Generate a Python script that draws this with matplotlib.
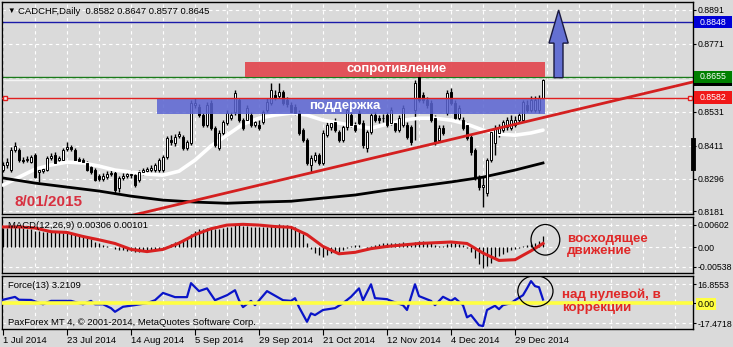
import matplotlib.pyplot as plt
import matplotlib.transforms as mtransforms
from matplotlib.patches import Rectangle, Ellipse, Polygon

plt.rcParams['font.family'] = ['Liberation Sans', 'DejaVu Sans']

W, H = 733, 347
BG = '#dadada'

# daily bars, index 0 = 1 Jul 2014 ... 135 = 8 Jan 2015
opens = [
    .8326, .8344, .8326, .8397, .8397, .8361, .8361, .8354, .8379, .8319,
    .8322, .8326, .8368, .8379, .8361, .8361, .8400, .8407, .8397, .8365,
    .8361, .8351, .8337, .8326, .8305, .8294, .8301, .8312, .8315, .8262,
    .8298, .8305, .8308, .8308, .8291, .8319, .8322, .8326, .8326, .8326,
    .8326, .8372, .8432, .8421, .8446, .8442, .8404, .8421, .8555, .8548,
    .8520, .8485, .8562, .8474, .8404, .8457, .8492, .8509, .8531, .8573,
    .8502, .8502, .8520, .8485, .8485, .8495, .8538, .8562, .8591, .8587,
    .8601, .8573, .8555, .8548, .8527, .8467, .8432, .8344, .8361, .8379,
    .8351, .8449, .8478, .8495, .8460, .8432, .8478, .8520, .8485, .8527,
    .8492, .8404, .8460, .8520, .8509, .8509, .8520, .8492, .8492, .8467,
    .8485, .8485, .8478, .8538, .8654, .8591, .8573, .8562, .8509, .8432,
    .8474, .8527, .8601, .8562, .8509, .8502, .8485, .8442, .8397, .8301,
    .8266, .8245, .8361, .8421, .8457, .8467, .8478, .8474, .8485, .8502,
    .8502, .8555, .8538, .8538, .8538, .8582]
highs = [
    .8354, .8368, .8407, .8425, .8404, .8372, .8375, .8379, .8386, .8333,
    .8340, .8375, .8386, .8390, .8375, .8404, .8425, .8414, .8404, .8372,
    .8368, .8358, .8344, .8333, .8312, .8315, .8322, .8326, .8322, .8305,
    .8315, .8322, .8326, .8315, .8326, .8333, .8337, .8344, .8351, .8368,
    .8379, .8446, .8449, .8453, .8464, .8449, .8432, .8573, .8580, .8559,
    .8527, .8566, .8573, .8481, .8467, .8502, .8538, .8531, .8608, .8580,
    .8509, .8555, .8531, .8509, .8502, .8538, .8580, .8633, .8608, .8633,
    .8608, .8584, .8566, .8559, .8538, .8474, .8439, .8379, .8390, .8386,
    .8467, .8495, .8502, .8509, .8467, .8485, .8555, .8531, .8495, .8538,
    .8502, .8467, .8527, .8531, .8520, .8524, .8531, .8548, .8502, .8520,
    .8555, .8495, .8485, .8644, .8672, .8601, .8584, .8573, .8520, .8485,
    .8485, .8608, .8615, .8573, .8555, .8513, .8495, .8449, .8404, .8308,
    .8305, .8368, .8467, .8485, .8488, .8502, .8513, .8520, .8517, .8531,
    .8573, .8573, .8587, .8587, .8591, .8647]
lows = [
    .8319, .8333, .8319, .8390, .8354, .8351, .8354, .8351, .8298, .8284,
    .8315, .8322, .8361, .8344, .8354, .8358, .8393, .8393, .8354, .8351,
    .8347, .8322, .8312, .8287, .8287, .8287, .8294, .8305, .8241, .8248,
    .8291, .8298, .8298, .8266, .8284, .8308, .8315, .8319, .8319, .8319,
    .8319, .8365, .8414, .8411, .8439, .8397, .8397, .8414, .8545, .8513,
    .8478, .8478, .8467, .8407, .8397, .8449, .8485, .8502, .8520, .8495,
    .8467, .8492, .8478, .8478, .8467, .8488, .8531, .8555, .8573, .8580,
    .8555, .8548, .8524, .8520, .8449, .8425, .8344, .8319, .8354, .8344,
    .8344, .8442, .8467, .8460, .8425, .8425, .8467, .8478, .8460, .8485,
    .8404, .8390, .8453, .8495, .8492, .8495, .8478, .8485, .8460, .8460,
    .8478, .8435, .8414, .8432, .8566, .8562, .8545, .8495, .8414, .8425,
    .8449, .8520, .8555, .8502, .8502, .8467, .8432, .8379, .8291, .8256,
    .8195, .8234, .8354, .8379, .8442, .8457, .8467, .8467, .8478, .8495,
    .8495, .8531, .8531, .8531, .8527, .8577]
closes = [
    .8344, .8354, .8397, .8411, .8361, .8358, .8365, .8372, .8301, .8326,
    .8329, .8368, .8375, .8351, .8368, .8397, .8407, .8400, .8361, .8358,
    .8354, .8326, .8319, .8291, .8294, .8305, .8312, .8315, .8256, .8298,
    .8305, .8312, .8312, .8273, .8319, .8326, .8329, .8333, .8344, .8361,
    .8372, .8439, .8425, .8442, .8453, .8404, .8425, .8562, .8562, .8520,
    .8485, .8555, .8474, .8414, .8457, .8495, .8527, .8520, .8598, .8502,
    .8474, .8545, .8485, .8495, .8474, .8531, .8566, .8608, .8580, .8601,
    .8562, .8559, .8531, .8527, .8457, .8432, .8351, .8368, .8379, .8351,
    .8457, .8485, .8492, .8467, .8432, .8478, .8538, .8485, .8467, .8492,
    .8414, .8460, .8520, .8502, .8502, .8509, .8485, .8538, .8467, .8509,
    .8545, .8442, .8425, .8633, .8573, .8573, .8555, .8502, .8425, .8474,
    .8457, .8598, .8562, .8509, .8545, .8474, .8439, .8390, .8301, .8266,
    .8273, .8361, .8460, .8474, .8478, .8495, .8502, .8502, .8502, .8520,
    .8566, .8538, .8573, .8573, .8580, .8645]

# white moving average (vertices)
ma_fast_idx = [0, 4, 8, 12, 16, 20, 24, 28, 32, 36, 40, 44, 48, 52, 56, 60, 64, 68,
               72, 76, 80, 84, 88, 92, 96, 100, 104, 108, 112, 116, 120, 124, 128, 132, 135]
ma_fast = [.8273, .8301, .8329, .8344, .8354, .8351, .8340, .8326, .8319, .8312,
           .8308, .8322, .8361, .8411, .8449, .8488, .8509, .8520, .8527, .8520,
           .8502, .8492, .8481, .8474, .8488, .8502, .8509, .8509, .8502, .8488,
           .8467, .8453, .8449, .8457, .8467]
# black moving average (vertices)
ma_slow_idx = [0, 8, 16, 24, 32, 40, 48, 56, 64, 72, 80, 88, 96, 104, 112, 120, 128, 135]
ma_slow = [.8298, .8280, .8266, .8252, .8234, .8220, .8213, .8209, .8213, .8216,
           .8227, .8238, .8255, .8269, .8284, .8301, .8326, .8351]

# drawn levels
trend_idx = [32.5, 172.5]
trend_px = [0.8167, 0.8637]
level_blue = 0.8848
level_green = 0.8655
level_red = 0.8582
bid = 0.8645
resist_box = (60.5, 135.5, 0.8655, 0.8708)
support_box = (38.5, 135.5, 0.8523, 0.8580)
arrow_idx = [137.75, 140.0, 140.0, 141.3, 138.9, 136.5, 137.75]
arrow_px = [0.8652, 0.8652, 0.8774, 0.8774, 0.8891, 0.8774, 0.8774]

# MACD(12,26,9)
macd_hist = [
    0.0052, 0.0053, 0.0054, 0.0055, 0.0054, 0.0052, 0.0050, 0.0049,
    0.0045, 0.0043, 0.0042, 0.0042, 0.0041, 0.0040, 0.0040, 0.0039,
    0.0038, 0.0038, 0.0036, 0.0034, 0.0032, 0.0028, 0.0022, 0.0015,
    0.0010, 0.0006, 0.0003, 0.0001, -0.0006, -0.0008, -0.0009, -0.0010,
    -0.0011, -0.0012, -0.0012, -0.0011, -0.0010, -0.0009, -0.0007, -0.0004,
    -0.0001, 0.0004, 0.0009, 0.0014, 0.0018, 0.0020, 0.0024, 0.0036,
    0.0045, 0.0048, 0.0050, 0.0053, 0.0052, 0.0048, 0.0050, 0.0053,
    0.0055, 0.0056, 0.0062, 0.0060, 0.0057, 0.0057, 0.0056, 0.0055,
    0.0054, 0.0055, 0.0056, 0.0060, 0.0061, 0.0062, 0.0061, 0.0060,
    0.0057, 0.0055, 0.0046, 0.0035, 0.0012, -0.0005, -0.0015, -0.0022,
    -0.0026, -0.0020, -0.0016, -0.0014, -0.0012, -0.0008, -0.0002, 0.0003,
    0.0005, 0.0006, 0.0000, -0.0003, 0.0002, 0.0005, 0.0008, 0.0010,
    0.0011, 0.0012, 0.0010, 0.0011, 0.0013, 0.0010, 0.0007, 0.0014,
    0.0017, 0.0016, 0.0015, 0.0012, 0.0006, 0.0004, 0.0003, 0.0009,
    0.0011, 0.0010, 0.0009, 0.0005, -0.0002, -0.0012, -0.0030, -0.0046,
    -0.0056, -0.0052, -0.0042, -0.0032, -0.0025, -0.0018, -0.0013, -0.0009,
    -0.0006, -0.0003, 0.0003, 0.0005, 0.0008, 0.0012, 0.0018, 0.00306]
sig_idx = [0, 4, 8, 12, 16, 20, 24, 28, 32, 36, 40, 44, 48, 52, 56, 60, 64, 68,
           72, 76, 80, 84, 88, 92, 96, 100, 104, 108, 112, 116, 120, 124, 128, 132, 135]
sig_val = [0.0055, 0.0055, 0.0052, 0.0042, 0.0040, 0.0029, 0.0020, 0.0010, -0.0006, -0.0012,
           -0.0006, 0.0011, 0.0034, 0.0050, 0.0060, 0.0062, 0.0060, 0.0056, 0.0054, 0.0034,
           0.0002, -0.0018, -0.0014, -0.0004, 0.0002, 0.0006, 0.0010, 0.0012, 0.0014, 0.0010,
           -0.0016, -0.0036, -0.0034, -0.0010, 0.00101]

# Force(13)
force_idx = [0, 3, 4, 7, 10, 12, 17, 20, 22, 23, 25, 27, 28, 30, 33, 36, 38, 40, 43, 46,
             47, 49, 51, 53, 56, 58, 59, 60, 62, 63, 66, 70, 72, 73, 74, 76, 77, 78, 80, 83,
             85, 87, 89, 90, 92, 93, 96, 97, 100, 101, 103, 104, 107, 108, 110, 112, 113, 115, 116, 117,
             119, 120, 121, 123, 124, 125, 127, 128, 130, 131, 132, 133, 134, 135]
force_val = [3.0, 5.5, 3.0, 2.8, -1.0, 2.0, 2.0, -1.0, 2.0, -1.0,
             -1.0, -4.4, -7.6, -3.2, -1.7, 0.0, 2.6, 9.0, 5.3, 5.3,
             17.6, 10.6, 13.0, 2.6, 7.0, 11.4, 2.6, -3.5, 2.0, -1.8,
             10.6, 2.6, 2.0, 4.4, -3.5, -16.4, -9.0, -10.5, -6.0, -4.4,
             0.0, 5.6, 13.0, 2.6, 16.6, 4.4, 3.5, 2.0, -1.8, -6.0,
             16.6, 6.2, 2.0, -1.8, 5.6, 2.0, 4.4, -1.8, -12.5, -10.5,
             -19.4, -20.2, -6.0, -2.3, -5.3, -1.8, 0.0, 2.6, 7.0, 13.0,
             19.4, 15.0, 14.0, 3.21]

date_pos = [0, 16, 32, 48, 64, 80, 96, 112, 128]
date_labels = ['1 Jul 2014', '23 Jul 2014', '14 Aug 2014', '5 Sep 2014', '29 Sep 2014',
               '21 Oct 2014', '12 Nov 2014', '4 Dec 2014', '29 Dec 2014']
price_ticks = [0.8891, 0.8771, 0.8651, 0.8531, 0.8411, 0.8296, 0.8181]
price_labels = ['0.8891', '0.8771', '', '0.8531', '0.8411', '0.8296', '0.8181']

fig = plt.figure(figsize=(W / 100, H / 100), dpi=100, facecolor=BG)


def panel(top, bottom):
    a = fig.add_axes([2 / W, 1 - bottom / H, 691 / W, (bottom - top) / H])
    a.set_facecolor(BG)
    for s in a.spines.values():
        s.set_color('black')
        s.set_linewidth(1)
    a.set_xlim(-0.25, 172.5)
    a.yaxis.tick_right()
    a.tick_params(axis='y', length=2, width=0.8, labelsize=6.3, pad=1)
    a.set_xticks(range(0, 173, 16))
    a.set_xticks(range(8, 173, 16), minor=True)
    a.tick_params(axis='x', which='both', length=0, labelbottom=False)
    a.grid(True, which='both', color='white', linestyle=(0, (3, 3)), lw=0.8)
    a.set_axisbelow(True)
    return a


ax = panel(2, 214)
axm = panel(217, 273)
axf = panel(276, 329)

# ---- main price panel
ax.set_ylim(0.8171, 0.8919)
ax.set_yticks(price_ticks)
ax.set_yticklabels(price_labels)

idx = list(range(len(closes)))
ax.vlines(idx, lows, highs, color='black', lw=1, zorder=3)
bottoms = [min(o, c) for o, c in zip(opens, closes)]
heights = [max(abs(c - o), 0.0002) for o, c in zip(opens, closes)]
body_col = ['white' if c >= o else 'black' for o, c in zip(opens, closes)]
ax.bar(idx, heights, bottom=bottoms, width=0.7, color=body_col, edgecolor='black', lw=0.7, zorder=4)

ax.plot(ma_fast_idx, ma_fast, color='white', lw=2.6, zorder=3.5, solid_capstyle='round')
ax.plot(ma_slow_idx, ma_slow, color='black', lw=2, zorder=3.5)

ax.axhline(level_blue, color='#1a1aa8', lw=1, zorder=2)
ax.axhline(level_green, color='#1a7a1a', lw=1, zorder=2)
ax.axhline(bid, color='#f4f4f4', lw=1, zorder=2)
ax.axhline(level_red, color='#e02020', lw=1, zorder=5.5)
ax.plot([0.5, 171.75], [level_red, level_red], ls='none', marker='s', ms=3.5,
        mfc='#f0f0f0', mec='#e02020', mew=1, zorder=6, clip_on=False)
ax.plot(trend_idx, trend_px, color='#d42020', lw=2, zorder=5.6)

rx0, rx1, ry0, ry1 = resist_box
ax.add_patch(Rectangle((rx0, ry0), rx1 - rx0, ry1 - ry0, fc='#e2474f', ec='none', alpha=0.92, zorder=5))
ax.text(98.5, (ry0 + ry1) / 2, 'сопротивление', color='white', fontsize=9.5,
        fontweight='bold', ha='center', va='center', zorder=7)
sx0, sx1, sy0, sy1 = support_box
ax.add_patch(Rectangle((sx0, sy0), sx1 - sx0, sy1 - sy0, fc='#5a64d2', ec='none', alpha=0.85, zorder=5))
ax.text(85.5, (sy0 + sy1) / 2, 'поддержка', color='white', fontsize=9.5,
        fontweight='bold', ha='center', va='center', zorder=7)

ax.add_patch(Polygon(list(zip(arrow_idx, arrow_px)), closed=True, fc='#6470d2',
                     ec='#1a1a40', lw=1, zorder=6))

ax.text(3, 0.8215, '8/01/2015', color='#d83040', fontsize=11, fontweight='bold',
        ha='left', va='center', zorder=7)
ax.text(0.008, 0.955, '\u25bc', transform=ax.transAxes, fontsize=5.5, ha='left', va='center')
ax.text(0.023, 0.955, 'CADCHF,Daily  0.8582 0.8647 0.8577 0.8645', transform=ax.transAxes,
        fontsize=6.8, ha='left', va='center')

# price labels with coloured boxes on the scale
lbl_tr = mtransforms.blended_transform_factory(ax.transAxes, ax.transData)
ax.add_patch(Rectangle((1.002, bid - 0.00215), 0.054, 0.0043, transform=lbl_tr,
                       fc='black', ec='none', clip_on=False, zorder=9))
for val, txt, fc in [(level_blue, '0.8848', '#0000d8'),
                     (level_green, '0.8655', '#008000'),
                     (level_red, '0.8582', '#f01818')]:
    ax.add_patch(Rectangle((1.002, val - 0.00215), 0.054, 0.0043, transform=lbl_tr,
                           fc=fc, ec='none', clip_on=False, zorder=9))
    ax.text(1.01, val, txt, transform=lbl_tr, color='white', fontsize=6.3,
            ha='left', va='center', clip_on=False, zorder=10)
ax.plot([1.0, 1.0], [0.8432, 0.8333], transform=lbl_tr, color='black', lw=3.5,
        clip_on=False, zorder=8)

# ---- MACD panel
axm.set_ylim(-0.00701, 0.00819)
axm.set_yticks([0.00602, 0.0, -0.00538])
axm.set_yticklabels(['0.00602', '0.00', '-0.00538'])
axm.vlines(idx, 0, macd_hist, color='black', lw=0.9, zorder=3)
axm.plot(sig_idx, sig_val, color='#d82020', lw=2.2, zorder=4)
axm.text(0.008, 0.84, 'MACD(12,26,9) 0.00306 0.00101', transform=axm.transAxes,
         fontsize=6.8, ha='left', va='center', zorder=5)
axm.add_patch(Ellipse((135.6, 0.0020), 7.2, 0.0083, fc='none', ec='black', lw=0.9, zorder=6))

# ---- Force panel
axf.set_ylim(-22.75, 23.9)
axf.set_yticks([16.8553, 0.0, -17.4718])
axf.set_yticklabels(['16.8553', '0.00', '-17.4718'])
axf.get_yticklabels()[1].set_bbox(dict(fc='#ffff40', ec='none', pad=1))
axf.plot(force_idx, force_val, color='#0a14c8', lw=1.6, zorder=3)
axf.axhline(0, color='#ffff40', lw=2.6, zorder=4)
axf.text(0.008, 0.83, 'Force(13) 3.2109', transform=axf.transAxes,
         fontsize=6.8, ha='left', va='center', zorder=5)
axf.text(0.008, 0.13, 'PaxForex MT 4, \u00a9 2001-2014, MetaQuotes Software Corp.',
         transform=axf.transAxes, fontsize=6.8, ha='left', va='center', zorder=5)
axf.add_patch(Ellipse((133.1, 10.6), 8.8, 27.3, fc='none', ec='black', lw=0.9, zorder=6))

axf.set_xticks(date_pos)
axf.set_xticklabels(date_labels)
axf.tick_params(axis='x', which='major', length=4, width=0.8, direction='out',
                labelbottom=True, labelsize=6.8, pad=1)
for t in axf.get_xticklabels():
    t.set_ha('left')

# annotations
fig.text(567 / W, 1 - 245 / H, 'восходящее\nдвижение', color='#e02828', fontsize=9.6,
         fontweight='bold', ha='left', va='center', linespacing=1.1)
fig.text(562 / W, 1 - 301 / H, 'над нулевой, в\nкоррекции', color='#e02828', fontsize=9.6,
         fontweight='bold', ha='left', va='center', linespacing=1.1)

fig.savefig('out.png', dpi=100, facecolor=BG)
